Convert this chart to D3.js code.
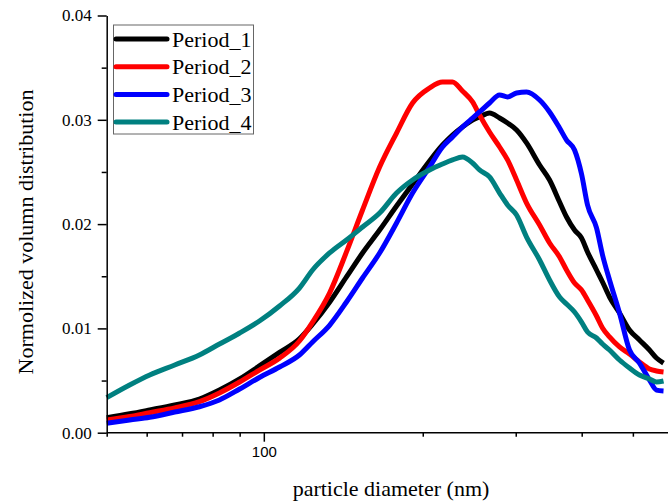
<!DOCTYPE html>
<html>
<head>
<meta charset="utf-8">
<script src="https://cdn.jsdelivr.net/npm/d3@7"></script>
<style>
  body { margin: 0; background: #fff; }
  .axis path, .axis line { stroke: #000; stroke-width: 1.5; }
  .serif { font-family: "Liberation Serif", "Times New Roman", serif; }
</style>
</head>
<body>
<div id="chart-area"></div>
<script>
// particle diameters (nm), shared by all series
var diameters = [50.4, 55.7, 60.8, 67.8, 75.5, 82.4, 90.0, 98.1, 107.1, 116.8,
    123.7, 133.2, 143.4, 153.8, 165.7, 178.4, 191.3, 206.0, 218.0, 227.7,
    237.8, 248.5, 256.2, 267.6, 279.6, 289.5, 301.1, 314.5, 332.9, 347.7,
    363.2, 374.4, 387.7, 399.7, 410.3, 426.7, 438.0, 451.6, 471.7, 492.7,
    514.6, 537.6, 554.2, 571.5];

var period1 = [0.00144, 0.00181, 0.00218, 0.00266, 0.00323, 0.00409, 0.00515, 0.00640, 0.00770, 0.00900,
    0.01040, 0.01250, 0.01493, 0.01723, 0.01943, 0.02174, 0.02384, 0.02605, 0.02758, 0.02854,
    0.02931, 0.02998, 0.03027, 0.03065, 0.03017, 0.02969, 0.02902, 0.02778, 0.02567, 0.02423,
    0.02212, 0.02068, 0.01943, 0.01867, 0.01733, 0.01560, 0.01445, 0.01301, 0.01148, 0.00985,
    0.00889, 0.00793, 0.00716, 0.00668];
var period2 = [0.00122, 0.00155, 0.00192, 0.00237, 0.00297, 0.00381, 0.00486, 0.00600, 0.00715, 0.00879,
    0.01061, 0.01339, 0.01733, 0.02135, 0.02547, 0.02873, 0.03161, 0.03305, 0.03362, 0.03362,
    0.03276, 0.03171, 0.03046, 0.02883, 0.02739, 0.02615, 0.02423, 0.02202, 0.01991, 0.01819,
    0.01685, 0.01560, 0.01435, 0.01368, 0.01272, 0.01119, 0.01004, 0.00918, 0.00822, 0.00755,
    0.00678, 0.00611, 0.00592, 0.00582];
var period3 = [0.00090, 0.00122, 0.00148, 0.00198, 0.00249, 0.00314, 0.00419, 0.00529, 0.00630, 0.00745,
    0.00870, 0.01030, 0.01253, 0.01483, 0.01723, 0.02011, 0.02298, 0.02547, 0.02739, 0.02835,
    0.02931, 0.03017, 0.03075, 0.03161, 0.03238, 0.03219, 0.03257, 0.03267, 0.03190, 0.03075,
    0.02921, 0.02806, 0.02710, 0.02480, 0.02183, 0.01963, 0.01704, 0.01464, 0.01148, 0.00793,
    0.00668, 0.00505, 0.00409, 0.00400];
var period4 = [0.00336, 0.00457, 0.00553, 0.00649, 0.00745, 0.00850, 0.00956, 0.01071, 0.01215, 0.01387,
    0.01560, 0.01723, 0.01848, 0.01972, 0.02106, 0.02298, 0.02423, 0.02519, 0.02576, 0.02615,
    0.02643, 0.02586, 0.02519, 0.02452, 0.02298, 0.02183, 0.02087, 0.01876, 0.01656, 0.01464,
    0.01301, 0.01234, 0.01157, 0.01061, 0.00965, 0.00908, 0.00850, 0.00793, 0.00697, 0.00620,
    0.00553, 0.00515, 0.00486, 0.00496];

var seriesNames = ["Period_1", "Period_2", "Period_3", "Period_4"];
var seriesValues = [period1, period2, period3, period4];
var colors = ["#000000", "#ff0000", "#0000ff", "#008080"];

var yMajorTicks = [0, 0.01, 0.02, 0.03, 0.04];
var yMinorTicks = [0.005, 0.015, 0.025, 0.035];
var xMajorTicks = [100];
var xMinorTicks = [50.4, 60, 70, 80, 90, 200, 300, 400, 500];

var W = 668, H = 504;
var plotLeft = 106.7, plotTop = 15.5, plotBottom = 432.7;

var svg = d3.select("#chart-area")
    .append("svg")
        .attr("width", W)
        .attr("height", H);

// scales: one decade of diameter is 528 px
var x = d3.scaleLog()
    .domain([50.4, 600])
    .range([plotLeft, plotLeft + 528 * Math.log10(600 / 50.4)]);
var y = d3.scaleLinear()
    .domain([0, 0.04])
    .range([plotBottom, plotTop]);

// curves
var line = d3.line()
    .curve(d3.curveMonotoneX)
    .x(function(d) { return x(d[0]); })
    .y(function(d) { return y(d[1]); });

seriesValues.forEach(function(vals, i) {
    svg.append("path")
        .datum(diameters.map(function(d, j) { return [d, vals[j]]; }))
        .attr("fill", "none")
        .attr("stroke", colors[i])
        .attr("stroke-width", 5)
        .attr("stroke-linejoin", "round")
        .attr("d", line);
});

// X axis
var xAxis = svg.append("g")
    .attr("class", "axis")
    .attr("transform", "translate(0," + plotBottom + ")")
    .call(d3.axisBottom(x).tickValues(xMajorTicks).tickSize(9).tickSizeOuter(0)
        .tickFormat(function(d) { return d; }));
xAxis.attr("font-family", "Liberation Sans, Arial, sans-serif")
    .attr("font-size", 15);
xAxis.select(".domain").attr("d", "M" + plotLeft + ",0H" + W);
xAxis.selectAll("text")
    .attr("fill", "#000")
    .attr("y", 14)
    .attr("dy", "0.71em");
svg.append("g")
    .attr("class", "axis")
    .attr("transform", "translate(0," + plotBottom + ")")
    .call(d3.axisBottom(x).tickValues(xMinorTicks).tickSize(4).tickFormat(""))
    .select(".domain").remove();

// Y axis
var yAxis = svg.append("g")
    .attr("class", "axis")
    .attr("transform", "translate(" + plotLeft + ",0)")
    .call(d3.axisLeft(y).tickValues(yMajorTicks).tickSize(9).tickSizeOuter(0)
        .tickFormat(d3.format(".2f")));
yAxis.attr("font-family", "Liberation Serif, Times New Roman, serif")
    .attr("font-size", 17);
yAxis.selectAll("text")
    .attr("fill", "#000")
    .attr("x", -15);
svg.append("g")
    .attr("class", "axis")
    .attr("transform", "translate(" + plotLeft + ",0)")
    .call(d3.axisLeft(y).tickValues(yMinorTicks).tickSize(5).tickFormat(""))
    .select(".domain").remove();

// axis titles
svg.append("text")
    .attr("class", "serif")
    .attr("x", 391)
    .attr("y", 496)
    .attr("font-size", "22px")
    .attr("text-anchor", "middle")
    .text("particle diameter (nm)");
svg.append("text")
    .attr("class", "serif")
    .attr("transform", "translate(33,232) rotate(-90)")
    .attr("font-size", "22px")
    .attr("text-anchor", "middle")
    .text("Normolized volumn distribution");

// legend
var legend = svg.append("g");
legend.append("rect")
    .attr("x", 113.5)
    .attr("y", 25)
    .attr("width", 140)
    .attr("height", 109)
    .attr("fill", "#fff")
    .attr("stroke", "#666")
    .attr("stroke-width", 1);
seriesNames.forEach(function(name, i) {
    var ly = 39 + i * 27.7;
    legend.append("line")
        .attr("x1", 116).attr("x2", 167)
        .attr("y1", ly).attr("y2", ly)
        .attr("stroke", colors[i])
        .attr("stroke-width", 5)
        .attr("stroke-linecap", "round");
    legend.append("text")
        .attr("class", "serif")
        .attr("x", 172)
        .attr("y", ly + 7.5)
        .attr("font-size", "22px")
        .text(name);
});
</script>
</body>
</html>
